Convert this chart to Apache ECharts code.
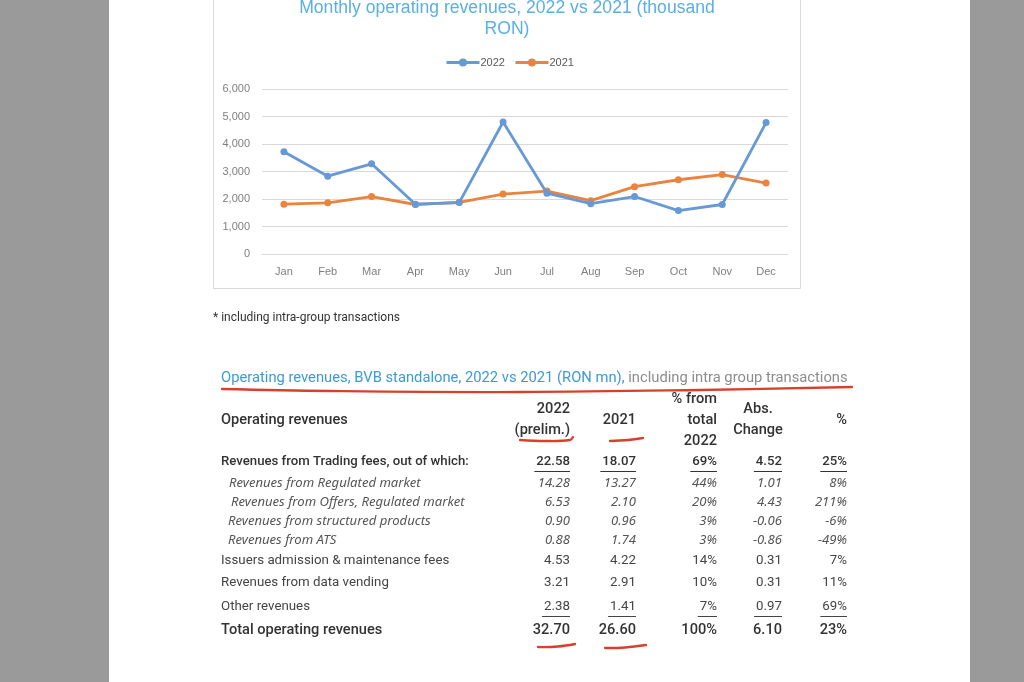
<!DOCTYPE html>
<html><head><meta charset="utf-8">
<script src="https://cdn.jsdelivr.net/npm/echarts@6/dist/echarts.min.js"></script>
<style>html,body{margin:0;padding:0;background:#9a9a9a}#c{width:1024px;height:682px}</style>
</head><body><div id="c"></div>
<script>
// ---------- chart data ----------
const months = ['Jan','Feb','Mar','Apr','May','Jun','Jul','Aug','Sep','Oct','Nov','Dec'];
const rev2022 = [3720, 2830, 3280, 1810, 1870, 4800, 2210, 1830, 2090, 1580, 1800, 4780];
const rev2021 = [1810, 1860, 2090, 1800, 1880, 2180, 2290, 1940, 2450, 2700, 2890, 2580];
const seriesNames = ['2022', '2021'];
const chartTitle = 'Monthly operating revenues, 2022 vs 2021 (thousand\nRON)';
const footnote = '* including intra-group transactions';

// ---------- table data ----------
const tableTitleMain = 'Operating revenues, BVB standalone, 2022 vs 2021 (RON mn),';
const tableTitleNote = ' including intra group transactions';
const headerFirst = 'Operating revenues';
const headerCols = [['2022', '(prelim.)'], ['2021'], ['% from', 'total', '2022'], ['Abs.', 'Change'], ['%']];
const rowLabels = [
  'Revenues from Trading fees, out of which:',
  'Revenues from Regulated market',
  'Revenues from Offers, Regulated market',
  'Revenues from structured products',
  'Revenues from ATS',
  'Issuers admission & maintenance fees',
  'Revenues from data vending',
  'Other revenues',
  'Total operating revenues'
];
const val2022 = [22.58, 14.28, 6.53, 0.90, 0.88, 4.53, 3.21, 2.38, 32.70];
const val2021 = [18.07, 13.27, 2.10, 0.96, 1.74, 4.22, 2.91, 1.41, 26.60];
const shareOfTotal = [69, 44, 20, 3, 3, 14, 10, 7, 100];
const absChange = [4.52, 1.01, 4.43, -0.06, -0.86, 0.31, 0.31, 0.97, 6.10];
const pctChange = [25, 8, 211, -6, -49, 7, 11, 69, 23];

// ---------- layout / style (not data) ----------
const rowKind = ['sub','item','item','item','item','main','main','main','total'];
const rowUnderline = [true,false,false,false,false,false,false,true,false];
const rowY = [462, 483, 502, 521, 540, 561, 583, 607, 630];
const rowX = [221, 229, 231, 228, 228, 221, 221, 221, 221];
const colRight = [570, 636, 717, 782, 847];
const TF = 'Roboto, "Noto Sans", sans-serif';
const TI = '"Noto Sans", Roboto, sans-serif';
const fonts = {
  sub:   '500 13.2px ' + TF,
  item:  'italic 13.1px ' + TI,
  main:  '13.3px ' + TF,
  total: '500 14.6px ' + TF
};
const colors = { sub:'#333333', item:'#555555', main:'#444444', total:'#333333' };

const mctx = document.createElement('canvas').getContext('2d');
function tw(text, font){ mctx.font = font; return mctx.measureText(text).width; }

const g = [];
// chart frame
g.push({type:'rect', shape:{x:213.5, y:-5, width:587, height:293.5}, style:{fill:null, stroke:'#d9d9d9', lineWidth:1}, z:-1});
// footnote
g.push({type:'text', x:213, y:318, style:{text:footnote, font:'12px ' + TF, fill:'#333', textVerticalAlign:'middle'}});
// table title
const ttFont = '14.75px ' + TF;
g.push({type:'text', x:221, y:378, style:{text:tableTitleMain, font:ttFont, fill:'#3c9ad8', textVerticalAlign:'middle'}});
g.push({type:'text', x:221 + tw(tableTitleMain, ttFont), y:378, style:{text:tableTitleNote, font:ttFont, fill:'#8c8c8c', textVerticalAlign:'middle'}});
// header
const hFont = '500 14.6px ' + TF;
g.push({type:'text', x:221, y:420, style:{text:headerFirst, font:hFont, fill:'#333', textVerticalAlign:'middle'}});
headerCols.forEach((lines, ci) => {
  const n = lines.length;
  lines.forEach((ln, li) => {
    const y = 420 + (li - (n - 1) / 2) * 21;
    const isAbs = ci === 3;
    g.push({type:'text', x: isAbs ? 758 : colRight[ci], y:y,
      style:{text:ln, font:hFont, fill:'#333', textAlign: isAbs ? 'center' : 'right', textVerticalAlign:'middle'}});
  });
});
// rows
const fmt2 = v => v.toFixed(2);
const fmtP = v => v + '%';
rowLabels.forEach((lab, i) => {
  const k = rowKind[i];
  const f = fonts[k];
  g.push({type:'text', x:rowX[i], y:rowY[i], style:{text:lab, font:f, fill:colors[k], textVerticalAlign:'middle'}});
  const cells = [fmt2(val2022[i]), fmt2(val2021[i]), fmtP(shareOfTotal[i]), fmt2(absChange[i]), fmtP(pctChange[i])];
  cells.forEach((t, ci) => {
    g.push({type:'text', x:colRight[ci], y:rowY[i], style:{text:t, font:f, fill:colors[k], textAlign:'right', textVerticalAlign:'middle'}});
    if (rowUnderline[i]) {
      const w = tw(t, f) + 2;
      g.push({type:'line', shape:{x1:colRight[ci] - w, y1:rowY[i] + 9.5, x2:colRight[ci], y2:rowY[i] + 9.5}, style:{stroke:colors[k], lineWidth:1}});
    }
  });
});
// red hand-drawn marks
const red = '#d8402a';
const marks = [
  [[222,389],[330,391],[520,392],[700,390],[852,387]],
  [[520,440],[545,441],[570,440],[573,437]],
  [[610,441],[628,440],[643,438]],
  [[538,647],[558,646.5],[575,644]],
  [[605,648],[625,647.5],[646,645]]
];
marks.forEach(p => g.push({type:'polyline', shape:{points:p, smooth:0.4}, style:{stroke:red, lineWidth:2.3, fill:null, lineCap:'round'}}));

const gray = '#9a9a9a';
const chart = echarts.init(document.getElementById('c'), null, {renderer:'canvas'});
chart.setOption({
  animation:false,
  backgroundColor:{type:'linear', x:0, y:0, x2:1, y2:0, colorStops:[
    {offset:0, color:gray},{offset:109/1024, color:gray},{offset:109/1024, color:'#ffffff'},
    {offset:970/1024, color:'#ffffff'},{offset:970/1024, color:gray},{offset:1, color:gray}]},
  title:{text:chartTitle, left:502, textAlign:'center', top:-7.5,
    textStyle:{fontFamily:'"Liberation Sans", Arial, sans-serif', fontSize:17.6, fontWeight:'normal', color:'#5aafe3', lineHeight:21}},
  legend:{left:445, top:57, padding:0, itemWidth:33, itemHeight:10, itemGap:9,
    lineStyle:{width:3},
    textStyle:{fontFamily:'"Liberation Sans", Arial, sans-serif', fontSize:11, color:'#595959', padding:[0,0,0,-4]},
    data:seriesNames},
  grid:{left:262, right:236, top:89, bottom:428, containLabel:false},
  xAxis:{type:'category', data:months, boundaryGap:true,
    axisLine:{lineStyle:{color:'#d9d9d9', width:1}}, axisTick:{show:false},
    axisLabel:{color:'#7f7f7f', fontSize:11, margin:12, fontFamily:'"Liberation Sans", Arial, sans-serif'}},
  yAxis:{type:'value', min:0, max:6000, interval:1000,
    axisLine:{show:false}, axisTick:{show:false},
    splitLine:{lineStyle:{color:'#d9d9d9', width:1}},
    axisLabel:{color:'#7f7f7f', fontSize:11, margin:12, fontFamily:'"Liberation Sans", Arial, sans-serif',
      formatter:v => v.toLocaleString('en-US')}},
  series:[
    {name:seriesNames[0], type:'line', data:rev2022, symbol:'circle', symbolSize:7,
      lineStyle:{width:2.8, color:'#6699d6'}, itemStyle:{color:'#6699d6'}, z:3},
    {name:seriesNames[1], type:'line', data:rev2021, symbol:'circle', symbolSize:7,
      lineStyle:{width:2.8, color:'#e9843f'}, itemStyle:{color:'#e9843f'}, z:2}
  ],
  graphic:g
});
</script></body></html>
